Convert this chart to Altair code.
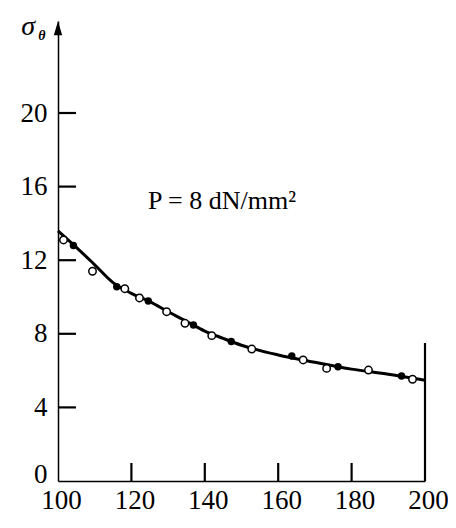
import altair as alt
import pandas as pd

# Fitted curve
curve_x = [100, 105, 110, 115, 120, 125, 130, 135, 140, 145, 150, 160, 170, 180, 190, 200]
curve_y = [13.6, 12.7, 11.75, 10.78, 10.2, 9.75, 9.2, 8.68, 8.15, 7.75, 7.38, 6.85, 6.45, 6.08, 5.8, 5.48]

# Measured points
filled_x = [104.2, 116.0, 124.6, 136.9, 147.2, 163.7, 176.3, 193.6]
filled_y = [12.8, 10.56, 9.78, 8.48, 7.58, 6.79, 6.21, 5.71]
open_x = [101.5, 109.4, 118.2, 122.2, 129.6, 134.6, 141.9, 152.8, 166.8, 173.2, 184.6, 196.6]
open_y = [13.1, 11.4, 10.45, 9.95, 9.2, 8.57, 7.9, 7.17, 6.58, 6.12, 6.03, 5.53]

x_ticks = [100, 120, 140, 160, 180, 200]
y_ticks = [0, 4, 8, 12, 16, 20]
inner_x_ticks = [120, 140, 160, 180]
inner_y_ticks = [4, 8, 12, 16, 20]
right_edge_top = 7.5

X_DOMAIN = [100, 200]
Y_DOMAIN = [0, 25]
W, H = 367, 460
FONT = "Liberation Serif"
# inward tick lengths, in data units (about 18 px)
TICK_DX = 4.9
TICK_DY = 0.98

xs = alt.Scale(domain=X_DOMAIN, nice=False, zero=False)
ys = alt.Scale(domain=Y_DOMAIN, nice=False)

curve = pd.DataFrame({"x": curve_x, "y": curve_y})
filled = pd.DataFrame({"x": filled_x, "y": filled_y})
opened = pd.DataFrame({"x": open_x, "y": open_y})

xaxis = alt.Axis(values=x_ticks, ticks=False, grid=False, title=None,
                 labelFont=FONT, labelFontSize=27, labelColor="black",
                 labelPadding=6, labelFlush=False, labelOffset=3, domainColor="black",
                 domainWidth=1.5, format="d")
yaxis = alt.Axis(values=y_ticks, ticks=False, grid=False, title=None,
                 labelFont=FONT, labelFontSize=27, labelColor="black",
                 labelPadding=11, domainColor="black", domainWidth=1.5, format="d",
                 labelOffset={"condition": {"test": "datum.value == 0", "value": -7}, "value": 0})

line = alt.Chart(curve).mark_line(color="black", strokeWidth=3, interpolate="monotone").encode(
    x=alt.X("x:Q", scale=xs, axis=xaxis),
    y=alt.Y("y:Q", scale=ys, axis=yaxis),
)

pts_filled = alt.Chart(filled).mark_point(filled=True, color="black", size=55, opacity=1).encode(
    x=alt.X("x:Q", scale=xs), y=alt.Y("y:Q", scale=ys))
pts_open = alt.Chart(opened).mark_point(filled=True, fill="white", stroke="black",
                                        strokeWidth=1.5, size=55, opacity=1).encode(
    x=alt.X("x:Q", scale=xs), y=alt.Y("y:Q", scale=ys))

# vertical rules: inward x ticks + the short right edge line
vrule_df = pd.DataFrame({
    "x": inner_x_ticks + [X_DOMAIN[1]],
    "y": [0] * (len(inner_x_ticks) + 1),
    "y2": [TICK_DY] * len(inner_x_ticks) + [right_edge_top],
})
vrules = alt.Chart(vrule_df).mark_rule(color="black", strokeWidth=2.2).encode(
    x=alt.X("x:Q", scale=xs), y=alt.Y("y:Q", scale=ys), y2="y2:Q")

# horizontal rules: inward y ticks
hrule_df = pd.DataFrame({
    "y": inner_y_ticks,
    "x": [X_DOMAIN[0]] * len(inner_y_ticks),
    "x2": [X_DOMAIN[0] + TICK_DX] * len(inner_y_ticks),
})
hrules = alt.Chart(hrule_df).mark_rule(color="black", strokeWidth=2.2).encode(
    y=alt.Y("y:Q", scale=ys), x=alt.X("x:Q", scale=xs), x2="x2:Q")

arrow = alt.Chart(pd.DataFrame({"x": [100], "y": [24.6]})).mark_point(
    shape="M0,-1L0.6,1L-0.6,1Z", filled=True, color="black", size=196, opacity=1).encode(
    x=alt.X("x:Q", scale=xs), y=alt.Y("y:Q", scale=ys))

sigma = alt.Chart(pd.DataFrame({"x": [91.9], "y": [24.24], "t": ["σ"]})).mark_text(
    font=FONT, fontSize=28, fontStyle="italic", baseline="alphabetic", align="center",
    color="black").encode(x=alt.X("x:Q", scale=xs), y=alt.Y("y:Q", scale=ys), text="t:N")
theta = alt.Chart(pd.DataFrame({"x": [95.6], "y": [23.95], "t": ["θ"]})).mark_text(
    font=FONT, fontSize=14, fontStyle="italic", fontWeight="bold", baseline="alphabetic",
    align="center", color="black").encode(
    x=alt.X("x:Q", scale=xs), y=alt.Y("y:Q", scale=ys), text="t:N")

label = alt.Chart(pd.DataFrame({"x": [144.7], "y": [14.8], "t": ["P = 8 dN/mm²"]})).mark_text(
    font=FONT, fontSize=26, baseline="alphabetic", align="center", color="black").encode(
    x=alt.X("x:Q", scale=xs), y=alt.Y("y:Q", scale=ys), text="t:N")

chart = alt.layer(
    line, pts_open, pts_filled, arrow, sigma, theta, label, vrules, hrules
).properties(
    width=W, height=H,
    background="white",
    autosize=alt.AutoSizeParams(type="none"),
    padding={"left": 50, "top": 13, "right": 23, "bottom": 39},
).configure_view(stroke=None, strokeWidth=0)

chart.save("out.html", embed_options={"renderer": "svg", "actions": False})
